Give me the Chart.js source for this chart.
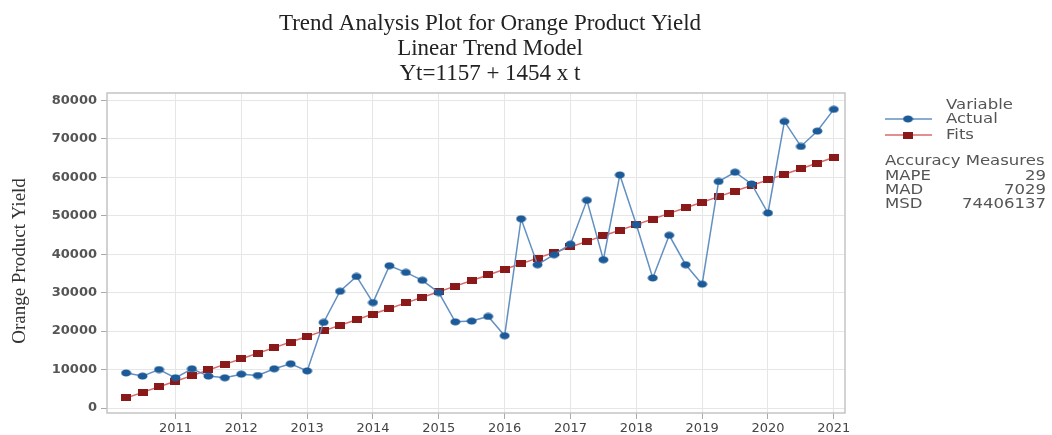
<!DOCTYPE html>
<html>
<head>
<meta charset="utf-8">
<script src="https://cdn.jsdelivr.net/npm/chart.js@4"></script>
<style>
  html, body { margin: 0; padding: 0; background: #fff; }
  #wrap { width: 1052px; height: 435px; }
</style>
</head>
<body>
<div id="wrap"><canvas id="trend-chart" width="1052" height="435"></canvas></div>
<script>
/* Quarter positions (2010 Q2 .. 2021 Q1), t = 1..44 */
var PERIODS = [
  2010.25, 2010.5, 2010.75, 2011.0, 2011.25, 2011.5, 2011.75, 2012.0,
  2012.25, 2012.5, 2012.75, 2013.0, 2013.25, 2013.5, 2013.75, 2014.0,
  2014.25, 2014.5, 2014.75, 2015.0, 2015.25, 2015.5, 2015.75, 2016.0,
  2016.25, 2016.5, 2016.75, 2017.0, 2017.25, 2017.5, 2017.75, 2018.0,
  2018.25, 2018.5, 2018.75, 2019.0, 2019.25, 2019.5, 2019.75, 2020.0,
  2020.25, 2020.5, 2020.75, 2021.0
];

/* Actual yield */
var ACTUAL = [
  9100, 8300, 10000, 7850, 10200, 8300, 7850, 8800, 8450, 10200, 11500, 9650,
  22250, 30350, 34200, 27400, 37000, 35250, 33200, 30000, 22400, 22600, 23800, 18800,
  49200, 37250, 39850, 42600, 54000, 38550, 60600, 47700, 33800, 44900, 37250, 32200,
  58900, 61300, 58250, 50700, 74500, 68000, 72000, 77650
];

/* Fitted trend values (Yt = 1157 + 1454 t) */
var FITS = [
  2611, 4065, 5519, 6973, 8427, 9881, 11335, 12789, 14243, 15697, 17151, 18605,
  20059, 21513, 22967, 24421, 25875, 27329, 28783, 30237, 31691, 33145, 34599, 36053,
  37507, 38961, 40415, 41869, 43323, 44777, 46231, 47685, 49139, 50593, 52047, 53501,
  54955, 56409, 57863, 59317, 60771, 62225, 63679, 65133
];

var YEAR_TICKS = [2011, 2012, 2013, 2014, 2015, 2016, 2017, 2018, 2019, 2020, 2021];
var VALUE_TICKS = [0, 10000, 20000, 30000, 40000, 50000, 60000, 70000, 80000];

var TITLE_LINES = ['Trend Analysis Plot for Orange Product Yield', 'Linear Trend Model', 'Yt=1157 + 1454 x t'];
var Y_TITLE = 'Orange Product Yield';
var SERIES_NAMES = ['Actual', 'Fits'];
var ACCURACY = [['MAPE', '29'], ['MAD', '7029'], ['MSD', '74406137']];

var COLORS = {
  actualLine: '#6290c2',
  actualDot: '#1d5b98',
  fitsLine: '#d86a6a',
  fitsDot: '#8a1a1a',
  grid: '#e6e6e6',
  frame: '#c4c4c4',
  text: '#555'
};

/* Marker sprites: flat ellipse and flat square, like the reference */
function makeEllipse(w, h, color) {
  var c = document.createElement('canvas');
  c.width = w; c.height = h;
  var g = c.getContext('2d');
  g.fillStyle = color;
  g.beginPath();
  g.ellipse(w / 2, h / 2, w / 2 - 0.5, h / 2 - 0.5, 0, 0, Math.PI * 2);
  g.fill();
  return c;
}
function makeRect(w, h, color) {
  var c = document.createElement('canvas');
  c.width = w; c.height = h;
  var g = c.getContext('2d');
  g.fillStyle = color;
  g.fillRect(0, 0, w, h);
  return c;
}
var dotActual = makeEllipse(11, 8, COLORS.actualDot);
var dotFits = makeRect(10, 7, COLORS.fitsDot);

/* legend text in the reference is a bit wide, so stretch it horizontally */
function wideText(ctx, text, x, y, align, sx) {
  ctx.save();
  ctx.translate(x, y);
  ctx.scale(sx, 1);
  ctx.textAlign = align;
  ctx.fillText(text, 0, 0);
  ctx.restore();
}

/* Titles, plot frame and the legend panel on the right */
var decorPlugin = {
  id: 'decor',
  beforeDatasetsDraw: function (chart) {
    var a = chart.chartArea, ctx = chart.ctx;
    ctx.save();
    ctx.strokeStyle = COLORS.frame;
    ctx.lineWidth = 1.5;
    ctx.strokeRect(a.left, a.top, a.right - a.left, a.bottom - a.top);
    ctx.restore();
  },
  afterDraw: function (chart) {
    var ctx = chart.ctx;
    ctx.save();
    ctx.fillStyle = '#222';
    ctx.font = '23px "Liberation Serif", serif';
    ctx.textAlign = 'center';
    ctx.textBaseline = 'alphabetic';
    TITLE_LINES.forEach(function (t, i) {
      ctx.fillText(t, 490, 30 + i * 25);
    });

    /* y axis title */
    ctx.save();
    ctx.translate(20, 261);
    ctx.rotate(-Math.PI / 2);
    ctx.font = '19px "Liberation Serif", serif';
    ctx.fillStyle = '#333';
    ctx.textBaseline = 'middle';
    ctx.fillText(Y_TITLE, 0, 0);
    ctx.restore();

    ctx.font = '14px "DejaVu Sans", sans-serif';
    ctx.fillStyle = COLORS.text;
    ctx.textBaseline = 'middle';
    wideText(ctx, 'Variable', 946, 105, 'left', 1.18);

    var rows = [
      { y: 119, line: COLORS.actualLine, sprite: dotActual },
      { y: 135, line: COLORS.fitsLine, sprite: dotFits }
    ];
    rows.forEach(function (r, i) {
      ctx.strokeStyle = r.line;
      ctx.lineWidth = 1.5;
      ctx.beginPath();
      ctx.moveTo(885, r.y);
      ctx.lineTo(932, r.y);
      ctx.stroke();
      ctx.drawImage(r.sprite, 908 - r.sprite.width / 2, r.y - r.sprite.height / 2);
      wideText(ctx, SERIES_NAMES[i], 946, r.y, 'left', 1.18);
    });

    wideText(ctx, 'Accuracy Measures', 885, 161, 'left', 1.18);
    ACCURACY.forEach(function (m, i) {
      var y = 176 + i * 14;
      wideText(ctx, m[0], 885, y, 'left', 1.18);
      wideText(ctx, m[1], 1046, y, 'right', 1.18);
    });
    ctx.restore();
  }
};

var points = function (ys) {
  return PERIODS.map(function (x, i) { return { x: x, y: ys[i] }; });
};

new Chart(document.getElementById('trend-chart'), {
  type: 'line',
  data: {
    datasets: [
      {
        label: SERIES_NAMES[0],
        data: points(ACTUAL),
        borderColor: COLORS.actualLine,
        borderWidth: 1.5,
        pointStyle: dotActual,
        tension: 0
      },
      {
        label: SERIES_NAMES[1],
        data: points(FITS),
        borderColor: COLORS.fitsLine,
        borderWidth: 1.5,
        pointStyle: dotFits,
        tension: 0
      }
    ]
  },
  options: {
    responsive: false,
    animation: false,
    layout: { padding: { top: 93, right: 207, left: 0, bottom: 0 } },
    plugins: {
      legend: { display: false },
      title: { display: false },
      tooltip: { enabled: false }
    },
    scales: {
      x: {
        type: 'linear',
        min: 2009.96,
        max: 2021.17,
        afterBuildTicks: function (s) {
          s.ticks = YEAR_TICKS.map(function (v) { return { value: v }; });
        },
        afterFit: function (s) { s.height = 22; },
        ticks: {
          color: '#444',
          font: { family: '"DejaVu Sans", sans-serif', size: 13 },
          padding: 2,
          maxRotation: 0,
          callback: function (v) { return String(v); }
        },
        grid: { color: COLORS.grid, tickColor: '#aaa', tickLength: 6 },
        border: { display: false }
      },
      y: {
        min: -1300,
        max: 81900,
        afterBuildTicks: function (s) {
          s.ticks = VALUE_TICKS.map(function (v) { return { value: v }; });
        },
        afterFit: function (s) { s.width = 107; },
        ticks: {
          color: '#555',
          font: { family: '"DejaVu Sans", sans-serif', size: 13, weight: 'bold' },
          padding: 4,
          callback: function (v) { return String(v); }
        },
        grid: { color: COLORS.grid, tickColor: '#aaa', tickLength: 6 },
        border: { display: false }
      }
    }
  },
  plugins: [decorPlugin]
});
</script>
</body>
</html>
